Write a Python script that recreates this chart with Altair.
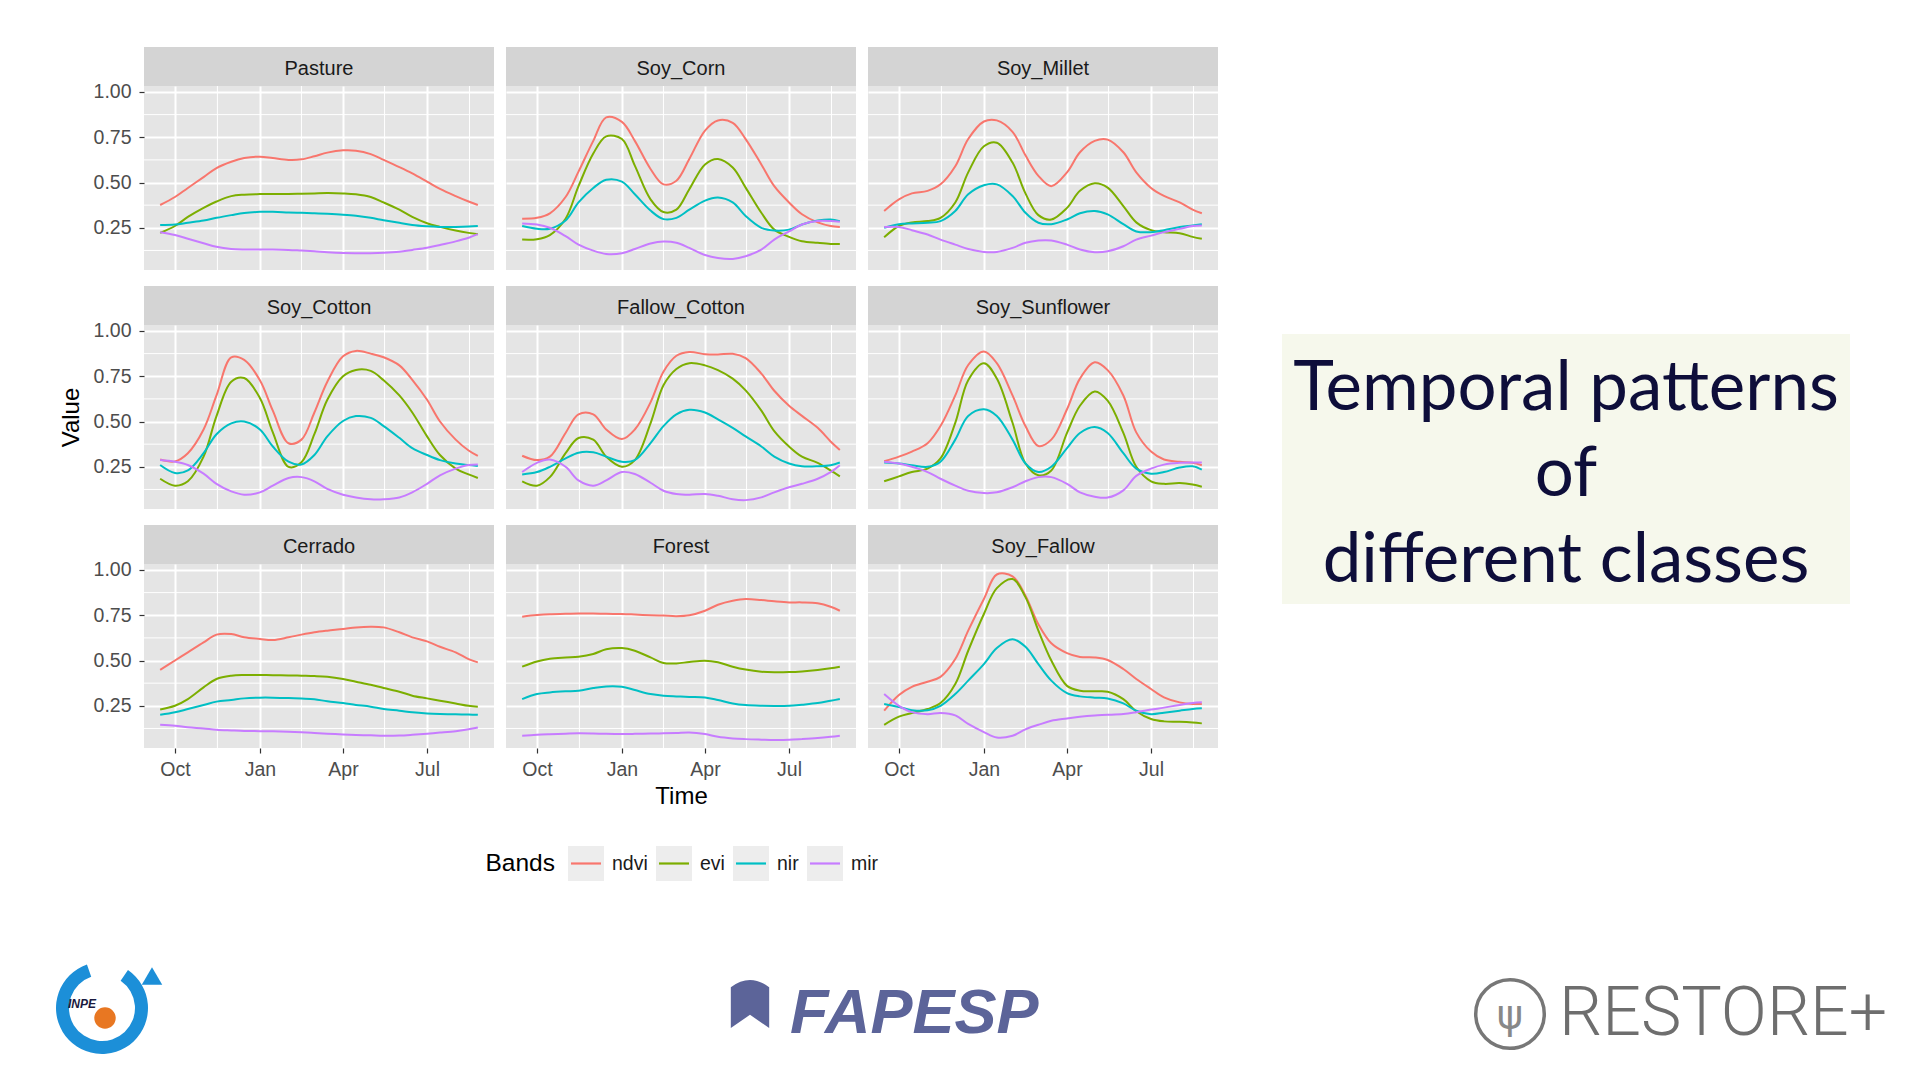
import altair as alt
import pandas as pd

FONT = "Liberation Sans"

# ---------------- data ----------------
dates = ["2000-09-15", "2000-10-01", "2000-10-15", "2000-11-01", "2000-11-15",
         "2000-12-01", "2000-12-15", "2001-01-01", "2001-01-15", "2001-02-01",
         "2001-02-15", "2001-03-01", "2001-03-15", "2001-04-01", "2001-04-15",
         "2001-05-01", "2001-05-15", "2001-06-01", "2001-06-15", "2001-07-01",
         "2001-07-15", "2001-08-01", "2001-08-15", "2001-08-25"]

classes = ["Pasture", "Soy_Corn", "Soy_Millet",
           "Soy_Cotton", "Fallow_Cotton", "Soy_Sunflower",
           "Cerrado", "Forest", "Soy_Fallow"]
bands = ["ndvi", "evi", "nir", "mir"]
band_colors = ["#F8766D", "#7CAE00", "#00BFC4", "#C77CFF"]

x_tick_dates = [(2000, 10, 1), (2001, 1, 1), (2001, 4, 1), (2001, 7, 1)]
x_minor_dates = ["2000-11-16", "2001-02-15", "2001-05-16", "2001-08-16"]
y_ticks = [0.25, 0.50, 0.75, 1.00]
y_minor = [0.125, 0.375, 0.625, 0.875]

pasture_ndvi = [0.376, 0.42, 0.47, 0.53, 0.58, 0.615, 0.635, 0.643, 0.635, 0.625, 0.628, 0.645, 0.665, 0.678, 0.676, 0.657, 0.625, 0.585, 0.55, 0.505, 0.465, 0.425, 0.395, 0.376]
pasture_evi = [0.222, 0.26, 0.31, 0.36, 0.395, 0.425, 0.433, 0.436, 0.437, 0.437, 0.438, 0.44, 0.442, 0.44, 0.435, 0.42, 0.39, 0.35, 0.31, 0.275, 0.255, 0.235, 0.222, 0.215]
pasture_nir = [0.265, 0.268, 0.278, 0.29, 0.305, 0.32, 0.332, 0.338, 0.338, 0.335, 0.333, 0.33, 0.327, 0.322, 0.316, 0.305, 0.292, 0.278, 0.265, 0.258, 0.255, 0.255, 0.257, 0.26]
pasture_mir = [0.226, 0.21, 0.19, 0.165, 0.145, 0.133, 0.13, 0.13, 0.13, 0.128, 0.124, 0.12, 0.115, 0.111, 0.11, 0.11, 0.112, 0.118, 0.128, 0.14, 0.155, 0.175, 0.195, 0.215]

soycorn_ndvi = [0.30, 0.305, 0.33, 0.42, 0.56, 0.73, 0.86, 0.835, 0.73, 0.575, 0.49, 0.51, 0.63, 0.787, 0.843, 0.83, 0.74, 0.60, 0.48, 0.39, 0.325, 0.28, 0.26, 0.255]
soycorn_evi = [0.185, 0.187, 0.21, 0.30, 0.48, 0.66, 0.755, 0.74, 0.593, 0.407, 0.337, 0.35, 0.463, 0.60, 0.63, 0.583, 0.472, 0.333, 0.24, 0.20, 0.176, 0.167, 0.161, 0.16]
soycorn_nir = [0.26, 0.245, 0.245, 0.29, 0.39, 0.47, 0.515, 0.505, 0.435, 0.345, 0.298, 0.305, 0.35, 0.40, 0.417, 0.39, 0.315, 0.25, 0.235, 0.24, 0.268, 0.29, 0.296, 0.287]
soycorn_mir = [0.274, 0.268, 0.25, 0.204, 0.157, 0.124, 0.106, 0.11, 0.133, 0.163, 0.174, 0.167, 0.139, 0.10, 0.083, 0.078, 0.093, 0.13, 0.185, 0.23, 0.268, 0.287, 0.287, 0.283]

soymillet_ndvi = [0.343, 0.407, 0.44, 0.454, 0.49, 0.59, 0.74, 0.837, 0.843, 0.78, 0.65, 0.537, 0.48, 0.556, 0.667, 0.73, 0.737, 0.667, 0.556, 0.47, 0.426, 0.39, 0.35, 0.33]
soymillet_evi = [0.198, 0.26, 0.28, 0.287, 0.305, 0.39, 0.556, 0.70, 0.72, 0.61, 0.44, 0.32, 0.296, 0.36, 0.454, 0.496, 0.472, 0.37, 0.28, 0.237, 0.226, 0.22, 0.20, 0.189]
soymillet_nir = [0.25, 0.27, 0.274, 0.278, 0.287, 0.343, 0.435, 0.485, 0.49, 0.426, 0.333, 0.278, 0.27, 0.296, 0.33, 0.343, 0.324, 0.27, 0.23, 0.226, 0.237, 0.254, 0.263, 0.27]
soymillet_mir = [0.254, 0.254, 0.237, 0.213, 0.185, 0.157, 0.133, 0.117, 0.117, 0.139, 0.167, 0.18, 0.18, 0.157, 0.13, 0.115, 0.12, 0.148, 0.185, 0.207, 0.226, 0.244, 0.26, 0.263]

soycotton_ndvi = [0.29, 0.28, 0.325, 0.456, 0.644, 0.854, 0.84, 0.728, 0.56, 0.38, 0.40, 0.55, 0.72, 0.86, 0.89, 0.875, 0.855, 0.81, 0.73, 0.62, 0.50, 0.40, 0.34, 0.31]
soycotton_evi = [0.184, 0.146, 0.17, 0.306, 0.53, 0.72, 0.74, 0.63, 0.44, 0.25, 0.275, 0.43, 0.62, 0.75, 0.785, 0.78, 0.728, 0.644, 0.55, 0.418, 0.315, 0.24, 0.208, 0.188]
soycotton_nir = [0.26, 0.216, 0.23, 0.325, 0.43, 0.49, 0.50, 0.456, 0.362, 0.278, 0.263, 0.315, 0.418, 0.503, 0.53, 0.52, 0.475, 0.41, 0.353, 0.315, 0.287, 0.268, 0.26, 0.255]
soycotton_mir = [0.287, 0.278, 0.26, 0.212, 0.156, 0.114, 0.096, 0.109, 0.146, 0.188, 0.193, 0.17, 0.128, 0.096, 0.081, 0.071, 0.071, 0.081, 0.109, 0.156, 0.203, 0.24, 0.26, 0.263]

fallowcotton_ndvi = [0.311, 0.287, 0.306, 0.437, 0.54, 0.54, 0.456, 0.403, 0.456, 0.606, 0.775, 0.863, 0.884, 0.872, 0.87, 0.874, 0.85, 0.765, 0.67, 0.587, 0.531, 0.465, 0.39, 0.343]
fallowcotton_evi = [0.17, 0.146, 0.193, 0.325, 0.409, 0.40, 0.306, 0.25, 0.287, 0.49, 0.70, 0.79, 0.822, 0.81, 0.784, 0.737, 0.672, 0.56, 0.447, 0.362, 0.306, 0.272, 0.23, 0.197]
fallowcotton_nir = [0.208, 0.221, 0.25, 0.296, 0.328, 0.33, 0.306, 0.278, 0.287, 0.381, 0.475, 0.54, 0.565, 0.55, 0.512, 0.465, 0.418, 0.362, 0.306, 0.268, 0.253, 0.253, 0.259, 0.274]
fallowcotton_mir = [0.221, 0.272, 0.29, 0.25, 0.175, 0.146, 0.175, 0.221, 0.21, 0.162, 0.118, 0.10, 0.096, 0.10, 0.09, 0.071, 0.066, 0.081, 0.109, 0.137, 0.156, 0.184, 0.221, 0.259]

soysunflower_ndvi = [0.281, 0.306, 0.334, 0.38, 0.475, 0.644, 0.812, 0.887, 0.822, 0.644, 0.475, 0.365, 0.40, 0.568, 0.737, 0.827, 0.784, 0.644, 0.44, 0.334, 0.29, 0.278, 0.272, 0.259]
soysunflower_evi = [0.17, 0.197, 0.221, 0.24, 0.296, 0.493, 0.728, 0.822, 0.737, 0.493, 0.268, 0.203, 0.23, 0.437, 0.587, 0.666, 0.615, 0.437, 0.25, 0.17, 0.156, 0.16, 0.152, 0.14]
soysunflower_nir = [0.274, 0.268, 0.259, 0.25, 0.278, 0.40, 0.531, 0.568, 0.531, 0.40, 0.268, 0.221, 0.25, 0.353, 0.437, 0.47, 0.437, 0.325, 0.24, 0.212, 0.221, 0.246, 0.253, 0.234]
soysunflower_mir = [0.278, 0.268, 0.25, 0.221, 0.184, 0.146, 0.118, 0.105, 0.109, 0.137, 0.17, 0.193, 0.193, 0.156, 0.109, 0.085, 0.08, 0.12, 0.20, 0.24, 0.262, 0.272, 0.274, 0.274]

cerrado_ndvi = [0.448, 0.50, 0.545, 0.60, 0.643, 0.646, 0.628, 0.619, 0.613, 0.628, 0.643, 0.656, 0.665, 0.674, 0.683, 0.687, 0.683, 0.656, 0.628, 0.606, 0.576, 0.545, 0.508, 0.49]
cerrado_evi = [0.23, 0.25, 0.287, 0.352, 0.398, 0.416, 0.42, 0.42, 0.419, 0.418, 0.416, 0.414, 0.41, 0.398, 0.383, 0.366, 0.348, 0.328, 0.306, 0.291, 0.278, 0.263, 0.25, 0.245]
cerrado_nir = [0.20, 0.214, 0.232, 0.254, 0.273, 0.282, 0.291, 0.295, 0.295, 0.293, 0.29, 0.286, 0.275, 0.265, 0.255, 0.245, 0.232, 0.223, 0.214, 0.208, 0.205, 0.203, 0.202, 0.20]
cerrado_mir = [0.145, 0.14, 0.132, 0.125, 0.118, 0.114, 0.111, 0.11, 0.109, 0.107, 0.104, 0.10, 0.096, 0.092, 0.089, 0.087, 0.085, 0.086, 0.09, 0.096, 0.102, 0.11, 0.12, 0.13]

forest_ndvi = [0.742, 0.751, 0.756, 0.758, 0.76, 0.76, 0.758, 0.757, 0.754, 0.75, 0.748, 0.745, 0.75, 0.775, 0.808, 0.83, 0.84, 0.834, 0.827, 0.821, 0.821, 0.816, 0.797, 0.775]
forest_evi = [0.466, 0.495, 0.51, 0.517, 0.521, 0.536, 0.562, 0.569, 0.554, 0.517, 0.486, 0.484, 0.492, 0.499, 0.49, 0.466, 0.45, 0.438, 0.435, 0.436, 0.44, 0.448, 0.457, 0.466]
forest_nir = [0.287, 0.315, 0.324, 0.33, 0.333, 0.348, 0.357, 0.355, 0.337, 0.315, 0.306, 0.302, 0.299, 0.296, 0.282, 0.263, 0.254, 0.25, 0.249, 0.25, 0.256, 0.265, 0.278, 0.287]
forest_mir = [0.085, 0.09, 0.093, 0.096, 0.098, 0.097, 0.095, 0.094, 0.095, 0.097, 0.098, 0.10, 0.103, 0.094, 0.079, 0.07, 0.066, 0.063, 0.061, 0.062, 0.066, 0.072, 0.079, 0.085]

soyfallow_ndvi = [0.223, 0.31, 0.355, 0.383, 0.41, 0.508, 0.665, 0.84, 0.975, 0.965, 0.858, 0.70, 0.595, 0.541, 0.52, 0.517, 0.503, 0.453, 0.398, 0.343, 0.297, 0.269, 0.26, 0.26]
soyfallow_evi = [0.145, 0.19, 0.21, 0.232, 0.265, 0.37, 0.554, 0.757, 0.90, 0.95, 0.85, 0.665, 0.50, 0.36, 0.333, 0.33, 0.328, 0.287, 0.22, 0.177, 0.164, 0.162, 0.158, 0.153]
soyfallow_nir = [0.26, 0.243, 0.226, 0.225, 0.25, 0.315, 0.389, 0.48, 0.569, 0.617, 0.576, 0.48, 0.389, 0.32, 0.302, 0.295, 0.29, 0.263, 0.223, 0.204, 0.212, 0.223, 0.232, 0.236]
soyfallow_mir = [0.315, 0.25, 0.215, 0.204, 0.21, 0.197, 0.15, 0.105, 0.075, 0.085, 0.12, 0.145, 0.167, 0.18, 0.19, 0.197, 0.20, 0.205, 0.215, 0.229, 0.24, 0.255, 0.265, 0.269]

series = {
    "Pasture": [pasture_ndvi, pasture_evi, pasture_nir, pasture_mir],
    "Soy_Corn": [soycorn_ndvi, soycorn_evi, soycorn_nir, soycorn_mir],
    "Soy_Millet": [soymillet_ndvi, soymillet_evi, soymillet_nir, soymillet_mir],
    "Soy_Cotton": [soycotton_ndvi, soycotton_evi, soycotton_nir, soycotton_mir],
    "Fallow_Cotton": [fallowcotton_ndvi, fallowcotton_evi, fallowcotton_nir, fallowcotton_mir],
    "Soy_Sunflower": [soysunflower_ndvi, soysunflower_evi, soysunflower_nir, soysunflower_mir],
    "Cerrado": [cerrado_ndvi, cerrado_evi, cerrado_nir, cerrado_mir],
    "Forest": [forest_ndvi, forest_evi, forest_nir, forest_mir],
    "Soy_Fallow": [soyfallow_ndvi, soyfallow_evi, soyfallow_nir, soyfallow_mir],
}

title_text = "Temporal patterns\nof\ndifferent classes"
legend_title = "Bands"

# ---------------- styling ----------------
PANEL_BG = "#E5E5E5"
STRIP_BG = "#D4D4D4"
PW, PH, SH = 350, 184, 39

def dt(y, m, d, h=0):
    return alt.DateTime(year=y, month=m, date=d, hours=h, utc=True)

x_domain = [dt(2000, 8, 28, 12), dt(2001, 9, 11, 12)]
x_tick_vals = [dt(*t) for t in x_tick_dates]
y_domain = [0.017, 1.033]


def make_panel(idx, cls):
    row, col = divmod(idx, 3)
    left = col == 0
    bottom = row == 2
    xkw = dict(values=x_tick_vals, labelExpr="utcFormat(datum.value, '%b')", grid=True,
               gridColor="white", gridWidth=2, domain=False, labels=bottom,
               ticks=bottom, tickColor="#333333", tickSize=5, tickWidth=1.2,
               labelFontSize=19.5, labelColor="#4D4D4D", labelPadding=7,
               labelFont=FONT, titleFont=FONT, titleFontSize=24,
               titleFontWeight="normal", titleColor="black", titlePadding=6)
    ykw = dict(values=y_ticks, format=".2f", grid=True, gridColor="white",
               gridWidth=2, domain=False, labels=left, ticks=left,
               tickColor="#333333", tickSize=5, tickWidth=1.2,
               labelFontSize=19.5, labelColor="#4D4D4D", labelPadding=8,
               labelFont=FONT, titleFont=FONT, titleFontSize=24,
               titleFontWeight="normal", titleColor="black", titlePadding=10)
    xtitle = "Time" if (bottom and col == 1) else None
    ytitle = "Value" if (left and row == 1) else None
    X = alt.X("date:T", scale=alt.Scale(type="utc", domain=x_domain, nice=False),
              axis=alt.Axis(**xkw), title=xtitle)
    Y = alt.Y("value:Q", scale=alt.Scale(domain=y_domain, nice=False, zero=False),
              axis=alt.Axis(**ykw), title=ytitle)

    rows = []
    for b, vals in zip(bands, series[cls]):
        for d, v in zip(dates, vals):
            rows.append({"band": b, "date": d, "value": v})
    df = pd.DataFrame(rows)

    minor_x = alt.Chart(pd.DataFrame({"date": x_minor_dates})).mark_rule(
        color="white", strokeWidth=1).encode(x=X)
    minor_y = alt.Chart(pd.DataFrame({"value": y_minor})).mark_rule(
        color="white", strokeWidth=1).encode(y=Y)
    lines = alt.Chart(df).mark_line(strokeWidth=2, interpolate="catmull-rom").encode(
        x=X, y=Y,
        color=alt.Color("band:N", scale=alt.Scale(domain=bands, range=band_colors),
                        legend=None))
    plot = alt.layer(minor_x, minor_y, lines).properties(
        width=PW, height=PH, view=alt.ViewBackground(fill=PANEL_BG))

    strip = alt.Chart(pd.DataFrame({"cls": [cls]})).mark_text(
        font=FONT, fontSize=20, dy=2, color="#1A1A1A").encode(text="cls:N").properties(
        width=PW, height=SH, view=alt.ViewBackground(fill=STRIP_BG))
    return alt.vconcat(strip, plot, spacing=0, bounds="flush")


panels = [make_panel(i, c) for i, c in enumerate(classes)]
grid = alt.concat(*panels, columns=3, spacing={"row": 15, "column": 10})

# ---------------- legend (ggplot-style keys) ----------------
one = pd.DataFrame({"a": [0]})
leg_spacer = alt.Chart(one).mark_point(opacity=0).properties(width=318, height=35)
leg_title = alt.Chart(one).mark_text(text=legend_title, align="right", dx=40,
                                     font=FONT, fontSize=24.5, color="black").properties(
    width=80, height=35)
items = []
for b, c in zip(bands, band_colors):
    key_line = alt.Chart(one).mark_rule(color=c, strokeWidth=2.2).encode(
        x=alt.value(3), x2=alt.value(33), y=alt.value(17.5))
    key_text = alt.Chart(one).mark_text(text=b, align="left", dx=26, font=FONT,
                                        fontSize=19.5, color="#1A1A1A").encode(
        color=alt.value("#1A1A1A"))
    items.append(alt.layer(key_line, key_text).properties(
        width=36, height=35, view=alt.ViewBackground(fill="#EDEDED")))
leg_items = alt.hconcat(*items, spacing=8)
legend = alt.hconcat(leg_spacer, leg_title, leg_items, spacing=13)

left_block = alt.vconcat(grid, legend, spacing=37)

# ---------------- right text box ----------------
spacer = alt.Chart(one).mark_point(opacity=0).properties(width=568, height=287)
textbox = alt.Chart(pd.DataFrame({"t": [title_text]})).mark_text(
    lineBreak="\n", font="Lato", fontSize=69, lineHeight=86, dy=-80, color="#0E0E3A",
    align="center", baseline="middle").encode(text="t:N").properties(
    width=568, height=270, view=alt.ViewBackground(fill="#F6F8EC"))
right_block = alt.vconcat(spacer, textbox, spacing=0)

top = alt.hconcat(left_block, right_block, spacing=63)

# ---------------- logos row (decoration) ----------------
inpe_ring = alt.Chart(one).mark_arc(theta=0.6, theta2=5.95, radius=46, radius2=33,
                                    color="#1C8FD8").encode(x=alt.value(-42), y=alt.value(56))
inpe_arrow = alt.Chart(one).mark_point(shape="triangle-up", filled=True, size=420,
                                       color="#1C8FD8", opacity=1).encode(
    x=alt.value(8), y=alt.value(24))
inpe_dot = alt.Chart(one).mark_circle(size=460, color="#E87722", opacity=1).encode(
    x=alt.value(-39), y=alt.value(66))
inpe_text = alt.Chart(one).mark_text(text="INPE", font=FONT, fontSize=12,
                                     fontStyle="italic", fontWeight="bold",
                                     color="#1A1A40").encode(x=alt.value(-62), y=alt.value(52))
fap_mark = alt.Chart(one).mark_point(
    shape="M -0.8 1 L -0.8 -0.7 Q 0 -1.3 0.8 -0.7 L 0.8 1 L 0 0.45 Z",
    filled=True, size=2300, color="#5C6499", opacity=1).encode(x=alt.value(606), y=alt.value(52))
fap_text = alt.Chart(one).mark_text(text="FAPESP", font=FONT, fontSize=63,
                                    fontStyle="italic", fontWeight="bold",
                                    color="#5C6499", align="left", baseline="middle").encode(
    x=alt.value(646), y=alt.value(62))
res_circle = alt.Chart(one).mark_point(shape="circle", filled=False, size=4700,
                                       strokeWidth=3.5, color="#777777", opacity=1).encode(
    x=alt.value(1366), y=alt.value(62))
res_tree = alt.Chart(one).mark_text(text="ψ", font="DejaVu Sans", fontSize=40,
                                    color="#888888").encode(x=alt.value(1366), y=alt.value(64))
res_text = alt.Chart(one).mark_text(text="RESTORE+", font="Roboto", fontWeight=300,
                                    fontSize=68, color="#6E6E6E", align="left",
                                    baseline="middle").encode(x=alt.value(1415), y=alt.value(63))
logos = alt.layer(inpe_ring, inpe_arrow, inpe_dot, inpe_text, fap_mark, fap_text,
                  res_circle, res_tree, res_text).properties(width=1750, height=110)

chart = alt.vconcat(top, logos, spacing=71).properties(
    padding={"left": 48, "top": 39, "right": 0, "bottom": 0}
).configure(font=FONT).configure_view(strokeWidth=0)

chart.save("out.html", embed_options={"renderer": "svg", "actions": False})
